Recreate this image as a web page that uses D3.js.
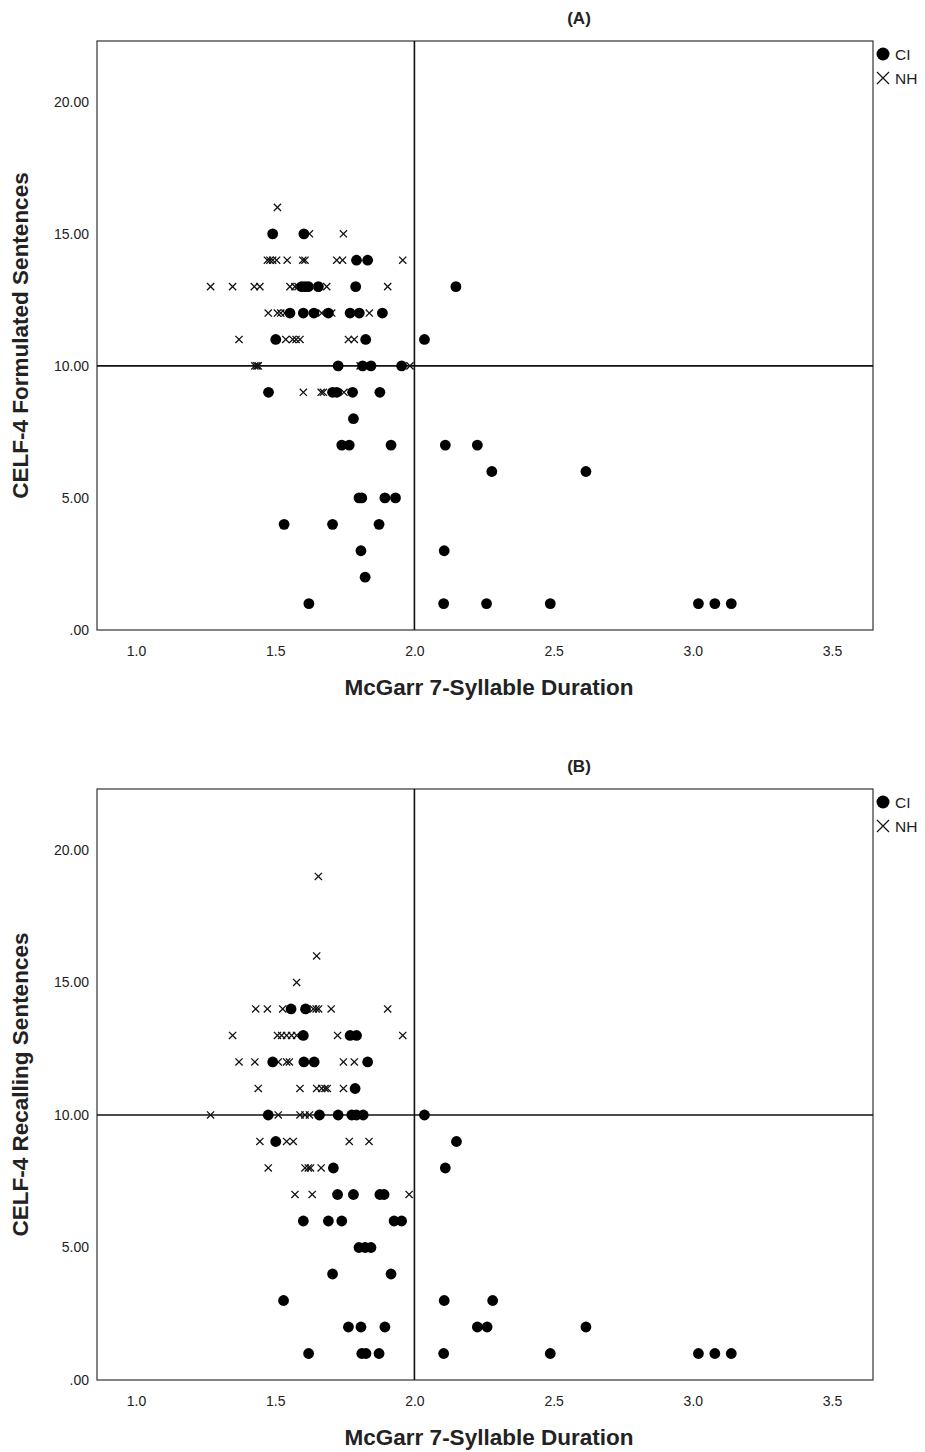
<!DOCTYPE html>
<html>
<head>
<meta charset="utf-8">
<script src="https://cdn.jsdelivr.net/npm/d3@7"></script>
<style>
  body { margin: 0; background: #fff; }
  text { font-family: "Liberation Sans", Arial, sans-serif; }
  .tick-label { font-size: 14px; fill: #222; }
  .axis-title { font-size: 22.5px; font-weight: bold; fill: #222; }
  .panel-title { font-size: 17px; font-weight: bold; fill: #222; }
  .legend-text { font-size: 15.5px; fill: #222; }
</style>
</head>
<body>
<div id="chart"></div>
<script>
// tick labels
const xTicks = [1.0, 1.5, 2.0, 2.5, 3.0, 3.5];
const yTicks = [0, 5, 10, 15, 20];
const groups = ["CI", "NH"];

// (A) McGarr duration vs CELF-4 Formulated Sentences
const ciFormulated = [
  [1.491,15],[1.603,15],
  [1.792,14],[1.832,14],
  [1.595,13],[1.607,13],[1.619,13],[1.655,13],[1.789,13],[2.149,13],
  [1.553,12],[1.601,12],[1.639,12],[1.691,12],[1.769,12],[1.802,12],[1.885,12],
  [1.502,11],[1.825,11],[2.036,11],
  [1.726,10],[1.814,10],[1.844,10],[1.954,10],
  [1.476,9],[1.706,9],[1.721,9],[1.778,9],[1.876,9],
  [1.781,8],
  [1.739,7],[1.766,7],[1.916,7],[2.111,7],[2.226,7],
  [2.278,6],[2.616,6],
  [1.801,5],[1.811,5],[1.894,5],[1.932,5],
  [1.532,4],[1.706,4],[1.873,4],
  [1.808,3],[2.107,3],
  [1.823,2],
  [1.621,1],[2.105,1],[2.259,1],[2.488,1],[3.020,1],[3.079,1],[3.138,1]
];
const nhFormulated = [
  [1.508,16],
  [1.623,15],[1.745,15],
  [1.472,14],[1.481,14],[1.491,14],[1.505,14],[1.543,14],[1.599,14],[1.607,14],[1.721,14],[1.742,14],[1.958,14],
  [1.268,13],[1.347,13],[1.425,13],[1.445,13],[1.553,13],[1.571,13],[1.582,13],[1.685,13],[1.904,13],
  [1.475,12],[1.508,12],[1.520,12],[1.535,12],[1.667,12],[1.703,12],[1.838,12],
  [1.370,11],[1.538,11],[1.563,11],[1.575,11],[1.589,11],[1.763,11],[1.784,11],
  [1.427,10],[1.434,10],[1.439,10],[1.805,10],[1.984,10],
  [1.601,9],[1.665,9],[1.673,9],[1.747,9]
];

// (B) McGarr duration vs CELF-4 Recalling Sentences
const ciRecalling = [
  [1.557,14],[1.609,14],
  [1.601,13],[1.769,13],[1.792,13],
  [1.491,12],[1.603,12],[1.640,12],[1.832,12],
  [1.787,11],
  [1.475,10],[1.659,10],[1.726,10],[1.775,10],[1.792,10],[1.816,10],[2.036,10],
  [1.502,9],[2.151,9],
  [1.709,8],[2.111,8],
  [1.724,7],[1.781,7],[1.876,7],[1.891,7],
  [1.601,6],[1.691,6],[1.739,6],[1.927,6],[1.954,6],
  [1.801,5],[1.823,5],[1.844,5],
  [1.706,4],[1.916,4],
  [1.530,3],[2.107,3],[2.281,3],
  [1.763,2],[1.808,2],[1.894,2],[2.226,2],[2.261,2],[2.616,2],
  [1.620,1],[1.811,1],[1.826,1],[1.873,1],[2.105,1],[2.488,1],[3.020,1],[3.079,1],[3.138,1]
];
const nhRecalling = [
  [1.655,19],[1.649,16],[1.577,15],
  [1.430,14],[1.472,14],[1.527,14],[1.637,14],[1.647,14],[1.656,14],[1.701,14],[1.904,14],
  [1.347,13],[1.508,13],[1.523,13],[1.541,13],[1.559,13],[1.577,13],[1.724,13],[1.958,13],
  [1.370,12],[1.427,12],[1.511,12],[1.541,12],[1.551,12],[1.745,12],[1.784,12],
  [1.439,11],[1.589,11],[1.649,11],[1.667,11],[1.679,11],[1.687,11],[1.745,11],
  [1.268,10],[1.511,10],[1.589,10],[1.607,10],[1.623,10],
  [1.445,9],[1.541,9],[1.565,9],[1.766,9],[1.837,9],
  [1.475,8],[1.607,8],[1.619,8],[1.627,8],[1.665,8],
  [1.571,7],[1.633,7],[1.981,7]
];

const width = 925, height = 1452;
const svg = d3.select("#chart").append("svg")
  .attr("width", width)
  .attr("height", height);

const left = 97, right = 873;
const x = d3.scaleLinear().domain([0.86, 3.647]).range([left, right]);

function drawPanel(top, bottom, title, yTitle, ci, nh) {
  const y = d3.scaleLinear().domain([0, 22.3]).range([bottom, top]);
  const g = svg.append("g");

  g.append("text").attr("class", "panel-title")
    .attr("x", 579).attr("y", top - 17)
    .attr("text-anchor", "middle").text(title);

  // frame
  g.append("rect")
    .attr("x", left).attr("y", top)
    .attr("width", right - left).attr("height", bottom - top)
    .attr("fill", "none").attr("stroke", "#333").attr("stroke-width", 1.2);

  // axes (labels only, no ticks)
  const xAxis = g.append("g").attr("transform", `translate(0,${bottom})`)
    .call(d3.axisBottom(x).tickValues(xTicks).tickFormat(d3.format(".1f")).tickSize(0).tickPadding(16));
  const yAxis = g.append("g").attr("transform", `translate(${left},0)`)
    .call(d3.axisLeft(y).tickValues(yTicks).tickFormat(d => d === 0 ? ".00" : d3.format(".2f")(d)).tickSize(0).tickPadding(8));
  [xAxis, yAxis].forEach(a => {
    a.select(".domain").remove();
    a.selectAll("text").attr("class", "tick-label").attr("font-family", null).attr("font-size", null);
  });

  // reference lines
  g.append("line")
    .attr("x1", x(2.0)).attr("x2", x(2.0)).attr("y1", top).attr("y2", bottom)
    .attr("stroke", "#111").attr("stroke-width", 1.6);
  g.append("line")
    .attr("x1", left).attr("x2", right).attr("y1", y(10)).attr("y2", y(10))
    .attr("stroke", "#111").attr("stroke-width", 1.6);

  // NH crosses
  const s = 3.6;
  g.append("g").selectAll("path").data(nh).join("path")
    .attr("d", d => `M${x(d[0]) - s},${y(d[1]) - s}L${x(d[0]) + s},${y(d[1]) + s}M${x(d[0]) - s},${y(d[1]) + s}L${x(d[0]) + s},${y(d[1]) - s}`)
    .attr("stroke", "#111").attr("stroke-width", 1.3).attr("fill", "none");

  // CI dots
  g.append("g").selectAll("circle").data(ci).join("circle")
    .attr("cx", d => x(d[0])).attr("cy", d => y(d[1]))
    .attr("r", 5.4).attr("fill", "#000");

  // axis titles
  g.append("text").attr("class", "axis-title")
    .attr("x", (left + right) / 2 + 4).attr("y", bottom + 65)
    .attr("text-anchor", "middle").text("McGarr 7-Syllable Duration");
  g.append("text").attr("class", "axis-title")
    .attr("transform", `translate(28,${(top + bottom) / 2}) rotate(-90)`)
    .attr("text-anchor", "middle").text(yTitle);

  // legend
  const lg = g.append("g").attr("transform", `translate(883,${top + 13})`);
  lg.append("circle").attr("cx", 0).attr("cy", 0).attr("r", 6.5).attr("fill", "#000");
  lg.append("text").attr("class", "legend-text").attr("x", 12).attr("y", 6).text(groups[0]);
  const ls = 6;
  lg.append("path")
    .attr("d", `M${-ls},${24 - ls}L${ls},${24 + ls}M${-ls},${24 + ls}L${ls},${24 - ls}`)
    .attr("stroke", "#111").attr("stroke-width", 1.2);
  lg.append("text").attr("class", "legend-text").attr("x", 12).attr("y", 30).text(groups[1]);
}

drawPanel(41, 630, "(A)", "CELF-4 Formulated Sentences", ciFormulated, nhFormulated);
drawPanel(789, 1380, "(B)", "CELF-4 Recalling Sentences", ciRecalling, nhRecalling);
</script>
</body>
</html>
